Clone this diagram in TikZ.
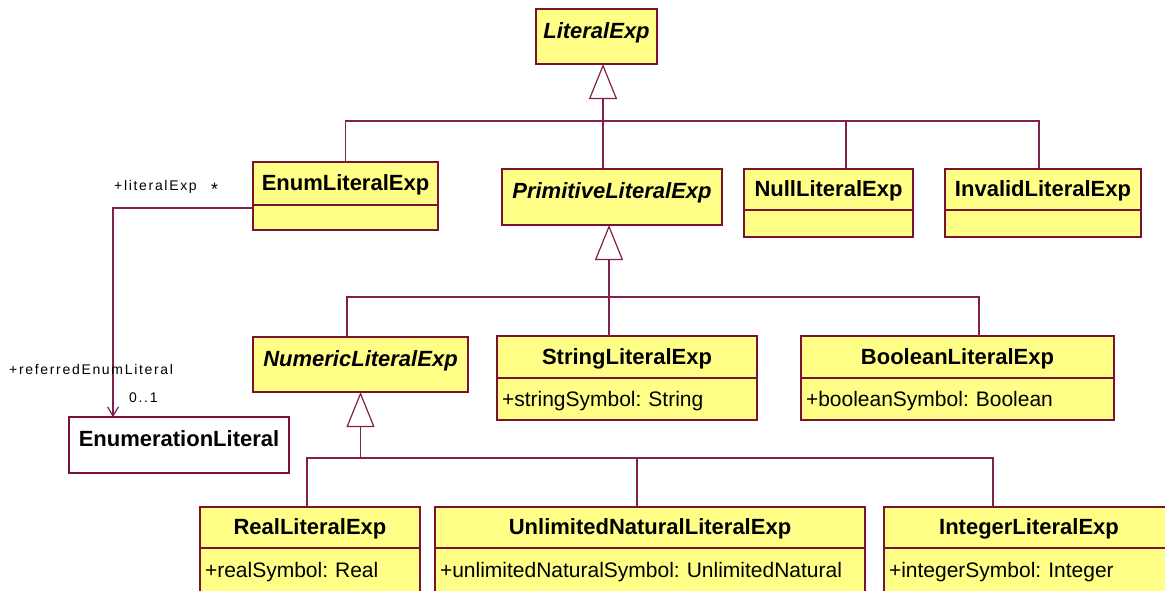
\documentclass[tikz,border=0pt]{standalone}
\usepackage{fontspec}
\setmainfont{Liberation Sans}
\newfontfamily\rolefont[LetterSpace=12]{Liberation Sans}
\usetikzlibrary{arrows.meta}
\frenchspacing

\begin{document}
\begin{tikzpicture}[x=1pt, y=-1pt]
  \definecolor{umlfill}{HTML}{FFFF88}
  \definecolor{umlborder}{HTML}{7A1230}
  \definecolor{umlline}{HTML}{80204F}
  \tikzstyle{cls}=[draw=umlborder, fill=umlfill, line width=1.2pt, anchor=north west, outer sep=0pt, inner xsep=5pt, inner ysep=0pt, text height=18pt, text depth=4pt, font=\fontsize{22}{26}\selectfont\bfseries]
  \tikzstyle{abstractcls}=[cls, text depth=15pt, minimum height=55pt, font=\fontsize{22}{26}\selectfont\bfseries\itshape]
  \tikzstyle{attr}=[cls, align=left, font=\fontsize{21}{25}\selectfont]
  \tikzstyle{gen}=[draw=umlline, line width=1.2pt, -{Triangle[open, length=35pt, width=28pt]}]
  \tikzstyle{link}=[draw=umlline, line width=1.2pt]
  \tikzstyle{role}=[font=\rolefont\fontsize{14}{16}\selectfont, inner sep=0pt, anchor=west]

  \useasboundingbox (0,0) rectangle (1165,590);

  % top level
  \node[abstractcls, minimum width=121pt] (lit) at (536,9) {LiteralExp};

  \node[cls, minimum width=185pt, minimum height=43pt] (enum) at (253,162) {EnumLiteralExp};
  \node[attr, text width=175pt, minimum height=25pt] (enum-a) at (enum.south west) {};
  \node[abstractcls, minimum width=220pt, minimum height=56pt] (prim) at (502,169) {PrimitiveLiteralExp};
  \node[cls, minimum width=169pt, minimum height=41pt] (null) at (744,169) {NullLiteralExp};
  \node[attr, text width=159pt, minimum height=27pt] (null-a) at (null.south west) {};
  \node[cls, minimum width=196pt, minimum height=41pt] (inv) at (945,169) {InvalidLiteralExp};
  \node[attr, text width=186pt, minimum height=27pt] (inv-a) at (inv.south west) {};

  % primitive types
  \node[abstractcls, minimum width=215pt] (num) at (253,337) {NumericLiteralExp};
  \node[cls, minimum width=260pt, minimum height=42pt] (str) at (497,336) {StringLiteralExp};
  \node[attr, text width=250pt, minimum height=42pt] (str-a) at (str.south west) {+stringSymbol: String};
  \node[cls, minimum width=313pt, minimum height=42pt] (bool) at (801,336) {BooleanLiteralExp};
  \node[attr, text width=303pt, minimum height=42pt] (bool-a) at (bool.south west) {+booleanSymbol: Boolean};

  \node[cls, fill=white, text depth=15pt, minimum width=220pt, minimum height=56pt] (enlit) at (69,417) {EnumerationLiteral};

  % numeric types
  \node[cls, minimum width=220pt, minimum height=41pt] (real) at (200,507) {RealLiteralExp};
  \node[attr, text width=210pt, minimum height=45pt] (real-a) at (real.south west) {+realSymbol: Real};
  \node[cls, minimum width=430pt, minimum height=41pt] (unl) at (435,507) {UnlimitedNaturalLiteralExp};
  \node[attr, text width=420pt, minimum height=45pt] (unl-a) at (unl.south west) {+unlimitedNaturalSymbol: UnlimitedNatural};
  \node[cls, minimum width=290pt, minimum height=41pt] (int) at (884,507) {IntegerLiteralExp};
  \node[attr, text width=280pt, minimum height=45pt] (int-a) at (int.south west) {+integerSymbol: Integer};

  \coordinate (bus1) at ([xshift=6.5pt,yshift=-57pt]lit.south);
  \draw[gen] ([xshift=-9pt]prim.north) -- ([xshift=6.5pt]lit.south);
  \draw[link] (enum.north) |- (bus1);
  \draw[link] ([xshift=17.5pt]null.north) |- (bus1);
  \draw[link] ([xshift=-4pt]inv.north) |- (bus1);

  \coordinate (bus2) at ([xshift=-3pt,yshift=-72pt]prim.south);
  \draw[gen] ([xshift=-18pt]str.north) -- ([xshift=-3pt]prim.south);
  \draw[link] ([xshift=-13.5pt]num.north) |- (bus2);
  \draw[link] ([xshift=21.5pt]bool.north) |- (bus2);

  \coordinate (bus3) at ([yshift=-66pt]num.south);
  \draw[gen] (bus3) -- (num.south);
  \draw[link] ([xshift=-3pt]real.north) |- (bus3);
  \draw[link] ([xshift=-13pt]unl.north) |- (bus3);
  \draw[link] ([xshift=-36pt]int.north) |- (bus3);

  % association
  \draw[link, -{Straight Barb[length=9pt, width=11pt]}] ([yshift=-3pt]enum.south west) -| ([xshift=44pt]enlit.north west);
  \node[role] (lexp) at (114,187) {+literalExp};
  \node[role, font=\fontsize{18}{20}\selectfont] (lmult) at (211,189) {*};
  \node[role] (rref) at (9,369) {+referredEnumLiteral};
  \node[role] (rmult) at (129,398) {0..1};
\end{tikzpicture}
\end{document}
